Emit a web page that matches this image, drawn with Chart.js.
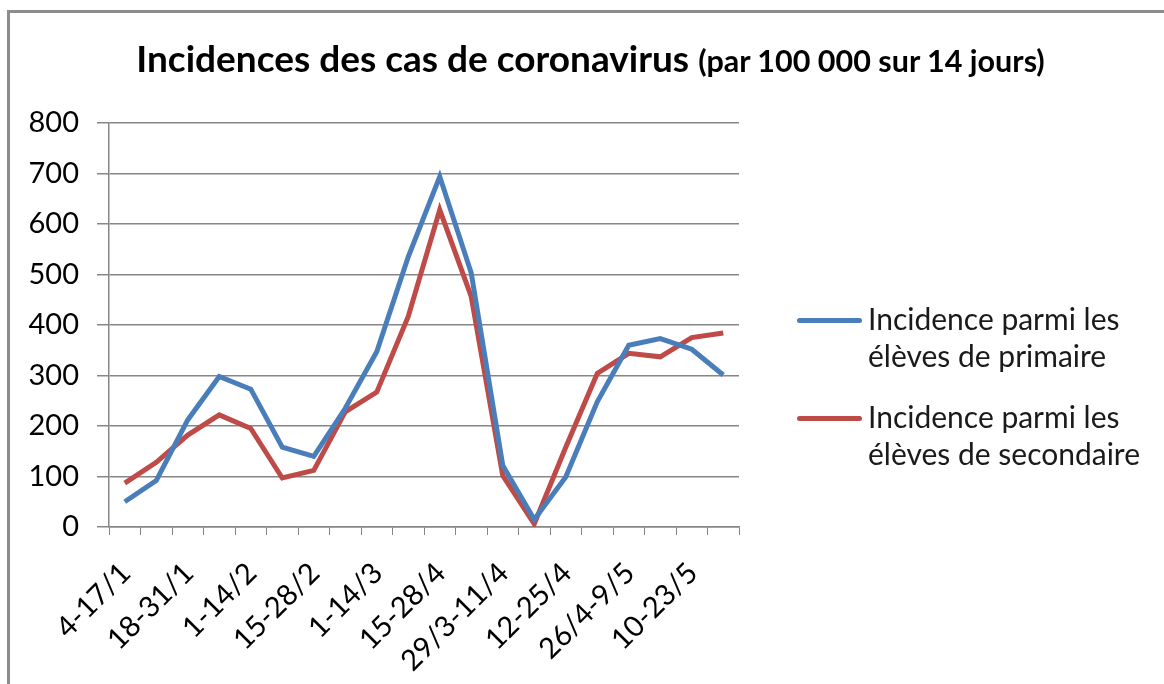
<!DOCTYPE html>
<html lang="fr">
<head>
    <meta charset="UTF-8">
    <title>Incidences coronavirus</title>
    <script src="https://cdn.jsdelivr.net/npm/chart.js"></script>
    <style>
        body { margin: 0; background: #fff; }
        .zone { position: relative; width: 1164px; height: 684px; overflow: hidden; font-family: Lato, sans-serif; }
        .cadre { position: absolute; left: 7px; top: 10px; width: 1300px; height: 800px; border: 3px solid #8c8c8c; box-sizing: border-box; }
        canvas { position: absolute; left: 0; top: 0; }
        .titre { position: absolute; left: 0; width: 1181px; top: 36px; line-height: 1.2; text-align: center; font-weight: 700; font-size: 37px; color: #000; white-space: nowrap; }
        .titre span { font-size: 30.5px; }
        .legende { position: absolute; left: 797px; top: 300px; }
        .item { display: flex; align-items: flex-start; margin-bottom: 24px; }
        .trait { width: 65px; height: 5px; border-radius: 3px; margin-top: 18px; margin-right: 6px; }
        .texte { font-size: 30px; line-height: 37px; color: #1a1a1a; }
    </style>
</head>
<body>
    <div class="zone">
        <div class="cadre"></div>
        <canvas id="graphique" width="1164" height="684"></canvas>
        <div class="titre">Incidences des cas de coronavirus <span>(par 100 000 sur 14 jours)</span></div>
        <div class="legende" id="legende"></div>
    </div>

    <script>
        // une étiquette sur deux est affichée (périodes glissantes de 14 jours)
        const periodes = ['4-17/1', '', '18-31/1', '', '1-14/2', '', '15-28/2', '', '1-14/3', '',
            '15-28/4', '', '29/3-11/4', '', '12-25/4', '', '26/4-9/5', '', '10-23/5', ''];
        const primaire = [50, 92, 212, 298, 273, 158, 140, 235, 347, 535, 694, 503, 122, 15, 99, 248, 360, 373, 352, 301];
        const secondaire = [87, 128, 182, 222, 195, 97, 112, 228, 267, 417, 628, 456, 102, 6, 158, 304, 344, 337, 375, 384];
        const nomsSeries = [['Incidence parmi les', 'élèves de primaire'], ['Incidence parmi les', 'élèves de secondaire']];
        const graduations = [0, 100, 200, 300, 400, 500, 600, 700, 800];

        const gris = '#868686';
        const police = { family: 'Lato, sans-serif', size: 29 };

        const ctx = document.getElementById('graphique').getContext('2d');
        const graphique = new Chart(ctx, {
            type: 'line',
            data: {
                labels: periodes,
                datasets: [{
                    label: nomsSeries[0].join(' '),
                    data: primaire,
                    borderColor: '#4A7EBB',
                    borderWidth: 5,
                    pointRadius: 0,
                    tension: 0
                }, {
                    label: nomsSeries[1].join(' '),
                    data: secondaire,
                    borderColor: '#BE4B48',
                    borderWidth: 5,
                    pointRadius: 0,
                    tension: 0
                }]
            },
            options: {
                responsive: false,
                animation: false,
                layout: { padding: { left: 0, top: 123, right: 425, bottom: 0 } },
                plugins: { legend: { display: false }, title: { display: false }, tooltip: { enabled: false } },
                scales: {
                    x: {
                        offset: true,
                        grid: { offset: true, drawOnChartArea: false, drawTicks: true, tickLength: 8, color: gris },
                        border: { color: gris, width: 1.5 },
                        ticks: {
                            autoSkip: false, maxRotation: 45, minRotation: 45, padding: 21, labelOffset: 1,
                            color: '#000', font: police
                        },
                        afterFit: function (s) { s.height = 157; }
                    },
                    y: {
                        min: 0,
                        max: 800,
                        afterBuildTicks: function (s) { s.ticks = graduations.map(function (v) { return { value: v }; }); },
                        grid: { color: gris, lineWidth: 1.5, tickLength: 12 },
                        border: { color: gris, width: 1.5 },
                        ticks: { padding: 18, color: '#000', font: police },
                        afterFit: function (s) { s.width = 109; }
                    }
                }
            }
        });

        // légende sur deux lignes, à droite
        const legende = document.getElementById('legende');
        graphique.data.datasets.forEach(function (ds, i) {
            const item = document.createElement('div');
            item.className = 'item';
            item.innerHTML = '<span class="trait" style="background:' + ds.borderColor + '"></span>' +
                '<div class="texte">' + nomsSeries[i].join('<br>') + '</div>';
            legende.appendChild(item);
        });
    </script>
</body>
</html>
